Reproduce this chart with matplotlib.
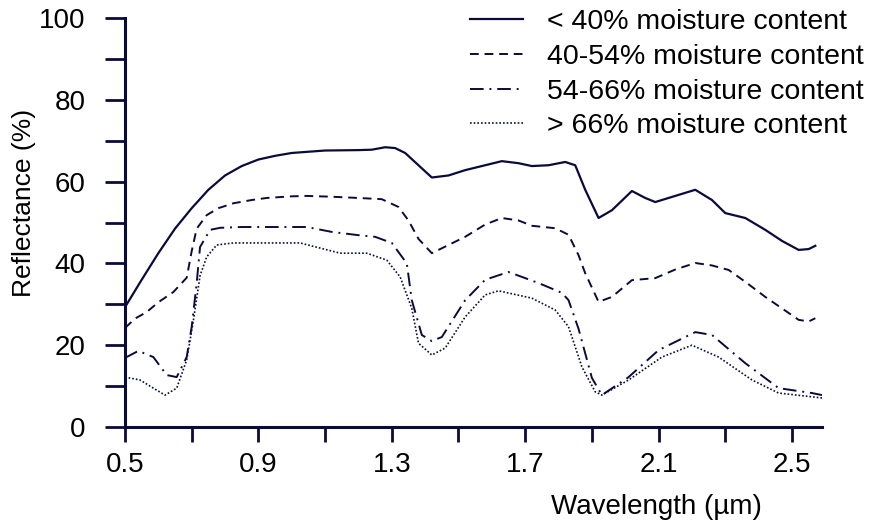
import matplotlib.pyplot as plt

plt.rcParams['font.family'] = ['Liberation Sans', 'DejaVu Sans']

NAVY = '#0b0b3b'

# < 40% moisture content
wl_dry = [0.50, 0.55, 0.60, 0.65, 0.70, 0.75, 0.80, 0.85, 0.90, 0.95, 1.00, 1.10,
          1.20, 1.24, 1.28, 1.31, 1.34, 1.38, 1.42, 1.47, 1.52, 1.58, 1.63, 1.68,
          1.72, 1.77, 1.82, 1.85, 1.88, 1.92, 1.96, 2.02, 2.06, 2.09, 2.15, 2.21,
          2.26, 2.30, 2.36, 2.42, 2.47, 2.52, 2.55, 2.57]
r_dry = [29.3, 36.0, 42.5, 48.5, 53.5, 58.0, 61.5, 63.8, 65.4, 66.3, 67.0, 67.6,
         67.7, 67.8, 68.4, 68.2, 67.0, 64.0, 61.0, 61.5, 62.8, 64.0, 65.0, 64.5,
         63.8, 64.0, 64.8, 64.0, 58.0, 51.1, 53.0, 57.7, 56.0, 55.0, 56.5, 58.0,
         55.5, 52.3, 51.1, 48.2, 45.5, 43.3, 43.5, 44.3]

# 40-54% moisture content
wl_mid = [0.50, 0.53, 0.565, 0.60, 0.645, 0.685, 0.70, 0.715, 0.745, 0.78, 0.825,
          0.88, 0.925, 1.00, 1.045, 1.12, 1.20, 1.27, 1.32, 1.35, 1.38, 1.42,
          1.47, 1.52, 1.58, 1.63, 1.68, 1.72, 1.79, 1.83, 1.86, 1.88, 1.92, 1.96,
          2.02, 2.09, 2.15, 2.21, 2.26, 2.31, 2.36, 2.42, 2.47, 2.52, 2.55, 2.57]
r_mid = [24.2, 26.5, 28.1, 30.5, 33.0, 36.5, 43.0, 48.5, 51.8, 53.5, 54.7, 55.5,
         56.0, 56.4, 56.5, 56.3, 56.0, 55.7, 53.8, 50.5, 46.0, 42.5, 44.5, 46.5,
         49.5, 51.1, 50.5, 49.2, 48.6, 47.0, 42.0, 37.6, 30.6, 31.8, 35.9, 36.4,
         38.5, 40.1, 39.5, 38.4, 35.5, 31.8, 29.0, 26.2, 25.8, 26.6]

# 54-66% moisture content
wl_wet = [0.50, 0.54, 0.585, 0.625, 0.655, 0.685, 0.70, 0.715, 0.725, 0.755, 0.785,
          0.85, 0.925, 1.045, 1.12, 1.20, 1.25, 1.30, 1.345, 1.36, 1.39, 1.42,
          1.45, 1.52, 1.58, 1.65, 1.74, 1.81, 1.83, 1.86, 1.90, 1.93, 2.01, 2.10,
          2.21, 2.26, 2.36, 2.46, 2.56, 2.59]
r_wet = [16.9, 18.6, 17.1, 12.7, 12.2, 17.1, 24.5, 35.2, 44.0, 48.2, 48.7, 48.9,
         48.9, 48.9, 47.7, 46.9, 46.5, 45.0, 40.0, 31.0, 22.5, 21.0, 22.0, 31.0,
         36.0, 37.9, 35.2, 32.8, 31.0, 24.0, 12.0, 7.8, 12.2, 18.8, 23.2, 22.5,
         15.6, 9.5, 8.3, 7.8]

# > 66% moisture content
wl_vwet = [0.50, 0.545, 0.585, 0.62, 0.655, 0.685, 0.705, 0.725, 0.745, 0.775,
           0.825, 0.925, 1.025, 1.145, 1.225, 1.285, 1.325, 1.36, 1.38, 1.42,
           1.46, 1.52, 1.58, 1.62, 1.72, 1.79, 1.83, 1.87, 1.91, 1.93, 2.01,
           2.11, 2.20, 2.28, 2.38, 2.46, 2.59]
r_vwet = [12.2, 11.5, 9.5, 7.8, 9.5, 16.4, 26.0, 37.0, 41.6, 44.5, 45.0, 45.0,
          45.0, 42.5, 42.5, 40.8, 36.7, 29.0, 20.5, 17.6, 19.3, 26.9, 32.3, 33.3,
          31.5, 28.6, 24.5, 14.7, 8.6, 7.8, 11.5, 17.1, 20.0, 17.1, 11.5, 8.3, 7.1]

labels = ['< 40% moisture content', '40-54% moisture content',
          '54-66% moisture content', '> 66% moisture content']

fig = plt.figure(figsize=(8.74, 5.25), dpi=100)
ax = fig.add_axes([125 / 874, 1 - 427 / 525, (822 - 125) / 874, (427 - 18) / 525])

style = dict(color=NAVY, solid_joinstyle='round', dash_joinstyle='round')
ax.plot(wl_dry, r_dry, lw=1.6, ls='-', label=labels[0], **style)
ax.plot(wl_mid, r_mid, lw=1.4, ls=(0, (4.5, 3)), label=labels[1], **style)
ax.plot(wl_wet, r_wet, lw=1.4, ls=(0, (7, 3, 1, 3)), label=labels[2], **style)
ax.plot(wl_vwet, r_vwet, lw=1.2, ls=(0, (1, 1.2)), label=labels[3], **style)

ax.set_xlim(0.5, 2.59)
ax.set_ylim(0, 100)
ax.spines['top'].set_visible(False)
ax.spines['right'].set_visible(False)
for s in ('left', 'bottom'):
    ax.spines[s].set_color(NAVY)
    ax.spines[s].set_linewidth(2.2)

ax.set_xticks([0.5, 0.9, 1.3, 1.7, 2.1, 2.5])
ax.set_xticks([0.7, 1.1, 1.5, 1.9, 2.3], minor=True)
ax.set_yticks(range(0, 101, 20))
ax.set_yticks(range(10, 100, 20), minor=True)
ax.tick_params(axis='both', which='both', color=NAVY, width=2, labelsize=20)
ax.tick_params(axis='x', which='both', direction='out', length=10.8, pad=7)
ax.tick_params(axis='y', which='both', direction='out', length=14.4, pad=14)

ax.set_xlabel('Wavelength (\u00b5m)', fontsize=20, va='center')
ax.xaxis.set_label_coords((656 - 125) / 697, (427 - 507) / 409)
ax.set_ylabel('Reflectance (%)', fontsize=19, va='center')
ax.yaxis.set_label_coords((24 - 125) / 697, (427 - 203) / 409)

fig.legend(loc='upper right', bbox_to_anchor=(1.011, 1.02), frameon=False,
           fontsize=20.5, handlelength=1.86, handletextpad=0.84, labelspacing=0.3,
           borderpad=0.2)

fig.savefig('out.png', dpi=100)
